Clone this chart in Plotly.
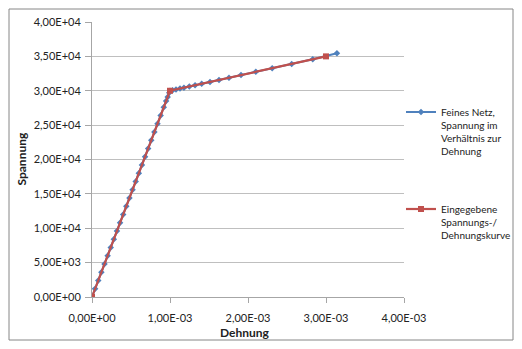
import plotly.graph_objects as go

# ---- data ----
blue_name = "Feines Netz,<br>Spannung im<br>Verhältnis zur<br>Dehnung"
blue_strain = [0.0, 0.04e-3, 0.08e-3, 0.12e-3, 0.16e-3, 0.20e-3, 0.24e-3, 0.28e-3, 0.32e-3,
               0.36e-3, 0.40e-3, 0.44e-3, 0.48e-3, 0.52e-3, 0.56e-3, 0.60e-3, 0.64e-3,
               0.68e-3, 0.72e-3, 0.76e-3, 0.80e-3, 0.84e-3, 0.88e-3, 0.92e-3, 0.95e-3,
               0.97e-3, 0.99e-3, 1.0e-3, 1.034e-3, 1.077e-3, 1.128e-3, 1.179e-3, 1.248e-3,
               1.321e-3, 1.406e-3, 1.513e-3, 1.628e-3, 1.756e-3, 1.91e-3, 2.10e-3, 2.31e-3,
               2.56e-3, 2.83e-3, 3.14e-3]
blue_stress = [0, 1200, 2400, 3600, 4800, 6000, 7200, 8400, 9600,
               10800, 12000, 13200, 14400, 15600, 16800, 18000, 19200,
               20400, 21600, 22800, 24000, 25200, 26400, 27600, 28500,
               29100, 29700, 30000, 30085, 30190, 30320, 30450, 30620,
               30800, 31015, 31280, 31570, 31890, 32275, 32750, 33275,
               33900, 34575, 35450]

red_name = "Eingegebene<br>Spannungs-/<br>Dehnungskurve"
red_strain = [0.0, 1.0e-3, 3.0e-3]
red_stress = [0, 30000, 35000]

x_tickvals = [0, 1e-3, 2e-3, 3e-3, 4e-3]
x_ticktext = ["0,00E+00", "1,00E-03", "2,00E-03", "3,00E-03", "4,00E-03"]
y_tickvals = [0, 5000, 10000, 15000, 20000, 25000, 30000, 35000, 40000]
y_ticktext = ["0,00E+00", "5,00E+03", "1,00E+04", "1,50E+04", "2,00E+04",
              "2,50E+04", "3,00E+04", "3,50E+04", "4,00E+04"]

x_title = "Dehnung"
y_title = "Spannung"

BLUE = "#4F81BD"
RED = "#C0504D"
FONT = "Lato, 'Open Sans', sans-serif"
GRID = "#A6A6A6"

# ---- layout geometry (pixels) ----
W, H = 522, 349
L, R, T, B = 92, 404, 22, 297

def px_x(p):
    return (p - L) / (R - L)

def px_y(p):
    return (B - p) / (B - T)

fig = go.Figure()
fig.add_trace(go.Scatter(
    x=blue_strain, y=blue_stress, mode="lines+markers", name=blue_name,
    line=dict(color=BLUE, width=2),
    marker=dict(symbol="diamond", size=5, color=BLUE),
    legend="legend",
))
fig.add_trace(go.Scatter(
    x=red_strain, y=red_stress, mode="lines+markers", name=red_name,
    line=dict(color=RED, width=2.2),
    marker=dict(symbol="square", size=6, color=RED),
    legend="legend2",
))

fig.update_layout(
    width=W, height=H,
    margin=dict(l=L, r=W - R, t=T, b=H - B, pad=0, autoexpand=False),
    paper_bgcolor="white", plot_bgcolor="white",
    font=dict(family=FONT, size=11, color="#222222"),
    showlegend=True,
    legend=dict(x=px_x(401), y=px_y(99), xanchor="left", yanchor="top",
                font=dict(size=10, color="#222222"), valign="top",
                itemwidth=30, bgcolor="rgba(0,0,0,0)"),
    legend2=dict(x=px_x(401), y=px_y(196), xanchor="left", yanchor="top",
                 font=dict(size=10, color="#222222"), valign="top",
                 itemwidth=30, bgcolor="rgba(0,0,0,0)"),
    xaxis=dict(range=[0, 4e-3], tickvals=x_tickvals, ticktext=x_ticktext,
               showgrid=False, zeroline=False, showline=True, linecolor=GRID,
               linewidth=1, ticks="outside", ticklen=5, tickcolor=GRID,
               ticklabelstandoff=6, fixedrange=True, automargin=False),
    yaxis=dict(range=[0, 40000], tickvals=y_tickvals, ticktext=y_ticktext,
               showgrid=True, gridcolor="#BFBFBF", gridwidth=1, zeroline=False,
               showline=True, linecolor=GRID, linewidth=1, ticks="outside",
               ticklen=6, tickcolor=GRID, ticklabelstandoff=2, fixedrange=True,
               automargin=False),
    annotations=[
        dict(text="<b>" + y_title + "</b>", xref="paper", yref="paper",
             x=px_x(21), y=0.5, textangle=-90, showarrow=False,
             font=dict(size=12, color="#222222"), xanchor="center", yanchor="middle"),
        dict(text="<b>" + x_title + "</b>", xref="paper", yref="paper",
             x=px_x(245), y=px_y(332), showarrow=False,
             font=dict(size=12, color="#222222"), xanchor="center", yanchor="middle"),
    ],
    shapes=[dict(type="rect", xref="paper", yref="paper",
                 x0=px_x(9), x1=px_x(513), y0=px_y(340), y1=px_y(9),
                 line=dict(color="#868686", width=1), layer="below")],
)

fig.write_html("out.html")
